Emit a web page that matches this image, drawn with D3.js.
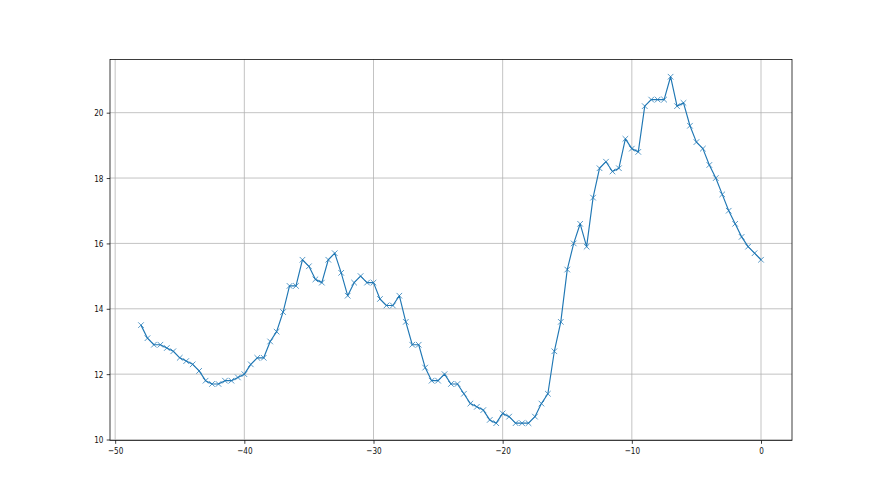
<!DOCTYPE html>
<html>
<head>
<meta charset="utf-8">
<script src="https://cdn.jsdelivr.net/npm/d3@7"></script>
<style>
  html, body { margin: 0; padding: 0; background: #fff; }
  svg { display: block; }
  .tick text { font-family: "DejaVu Sans", sans-serif; font-size: 9.6px; fill: #111; }
</style>
</head>
<body>
<div id="chart"></div>
<script>
  // ── Data ──
  const xStart = -48;
  const xStep  = 0.5;
  const yValues = [
    13.5, 13.1, 12.9, 12.9, 12.8, 12.7, 12.5, 12.4, 12.3, 12.1,
    11.8, 11.7, 11.7, 11.8, 11.8, 11.9, 12.0, 12.3, 12.5, 12.5,
    13.0, 13.3, 13.9, 14.7, 14.7, 15.5, 15.3, 14.9, 14.8, 15.5,
    15.7, 15.1, 14.4, 14.8, 15.0, 14.8, 14.8, 14.3, 14.1, 14.1,
    14.4, 13.6, 12.9, 12.9, 12.2, 11.8, 11.8, 12.0, 11.7, 11.7,
    11.4, 11.1, 11.0, 10.9, 10.6, 10.5, 10.8, 10.7, 10.5, 10.5,
    10.5, 10.7, 11.1, 11.4, 12.7, 13.6, 15.2, 16.0, 16.6, 15.9,
    17.4, 18.3, 18.5, 18.2, 18.3, 19.2, 18.9, 18.8, 20.2, 20.4,
    20.4, 20.4, 21.1, 20.2, 20.3, 19.6, 19.1, 18.9, 18.4, 18.0,
    17.5, 17.0, 16.6, 16.2, 15.9, 15.7, 15.5
  ];
  const xTicks = [-50, -40, -30, -20, -10, 0];
  const yTicks = [10, 12, 14, 16, 18, 20];

  const data = yValues.map((v, i) => ({ x: xStart + i * xStep, y: v }));

  // ── Layout (matplotlib default subplot params) ──
  const W = 880, H = 495;
  const margin = { left: 110, right: 88, top: 59.4, bottom: 54.5 };
  const width  = W - margin.left - margin.right;
  const height = H - margin.top - margin.bottom;
  const color  = '#1f77b4';
  const squeeze = 0.76;   // tick labels look horizontally condensed

  const svg = d3.select('#chart').append('svg')
    .attr('width', W).attr('height', H);
  const g = svg.append('g')
    .attr('transform', `translate(${margin.left},${margin.top})`);

  // Scales with 5% margins like matplotlib
  const xExt = d3.extent(data, d => d.x), yExt = d3.extent(data, d => d.y);
  const xPad = (xExt[1] - xExt[0]) * 0.05, yPad = (yExt[1] - yExt[0]) * 0.05;
  const x = d3.scaleLinear().domain([xExt[0] - xPad, xExt[1] + xPad]).range([0, width]);
  const y = d3.scaleLinear().domain([yExt[0] - yPad, yExt[1] + yPad]).range([height, 0]);

  const fmt = d => d < 0 ? '\u2212' + Math.abs(d) : String(d);

  // Gridlines
  g.append('g').selectAll('line').data(xTicks).join('line')
    .attr('x1', d => x(d)).attr('x2', d => x(d))
    .attr('y1', 0).attr('y2', height)
    .attr('stroke', '#b0b0b0').attr('stroke-width', 0.76);
  g.append('g').selectAll('line').data(yTicks).join('line')
    .attr('x1', 0).attr('x2', width)
    .attr('y1', d => y(d)).attr('y2', d => y(d))
    .attr('stroke', '#b0b0b0').attr('stroke-width', 0.76);

  // Line
  const line = d3.line().x(d => x(d.x)).y(d => y(d.y));
  g.append('path').datum(data)
    .attr('fill', 'none').attr('stroke', color)
    .attr('stroke-width', 1.15).attr('stroke-linejoin', 'round')
    .attr('d', line);

  // 'x' markers
  const m = 2.8;
  g.append('g').selectAll('path').data(data).join('path')
    .attr('d', d => {
      const cx = x(d.x), cy = y(d.y);
      return `M${cx - m},${cy - m}L${cx + m},${cy + m}M${cx - m},${cy + m}L${cx + m},${cy - m}`;
    })
    .attr('stroke', color).attr('stroke-width', 0.75).attr('fill', 'none');

  // Axes
  const xAxis = g.append('g').attr('transform', `translate(0,${height})`)
    .call(d3.axisBottom(x).tickValues(xTicks).tickFormat(fmt).tickSize(3.3).tickPadding(3.3));
  const yAxis = g.append('g')
    .call(d3.axisLeft(y).tickValues(yTicks).tickFormat(fmt).tickSize(3.3).tickPadding(3.3));
  [xAxis, yAxis].forEach(a => {
    a.select('.domain').remove();
    a.selectAll('.tick line').attr('stroke', '#000').attr('stroke-width', 0.76);
  });
  xAxis.selectAll('.tick text').attr('transform', `scale(${squeeze},1)`);
  yAxis.selectAll('.tick text')
    .attr('x', -6.6 / squeeze)
    .attr('transform', `scale(${squeeze},1)`);

  // Spines
  g.append('rect')
    .attr('x', 0).attr('y', 0).attr('width', width).attr('height', height)
    .attr('fill', 'none').attr('stroke', '#000').attr('stroke-width', 0.76);
</script>
</body>
</html>
